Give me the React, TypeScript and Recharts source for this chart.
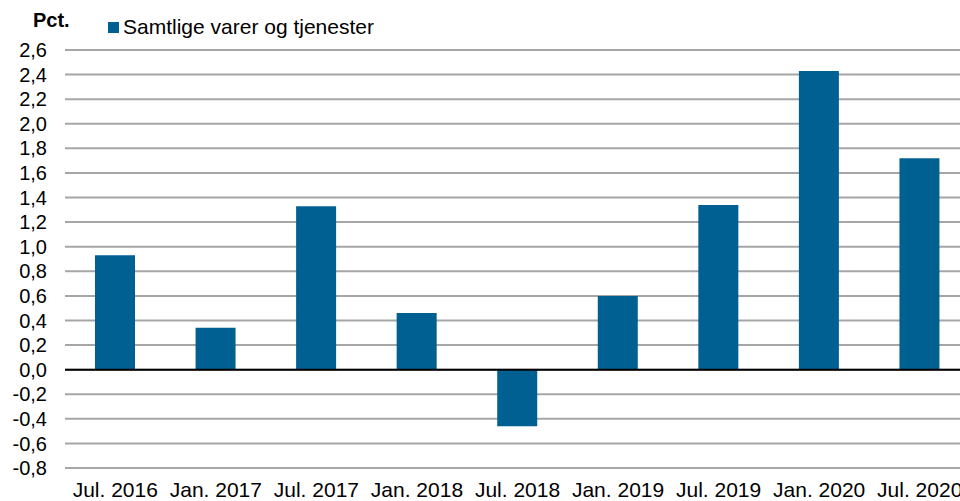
import {
  BarChart,
  Bar,
  XAxis,
  YAxis,
  CartesianGrid,
  ReferenceLine,
} from 'recharts';

const periods = [
  'Jul. 2016',
  'Jan. 2017',
  'Jul. 2017',
  'Jan. 2018',
  'Jul. 2018',
  'Jan. 2019',
  'Jul. 2019',
  'Jan. 2020',
  'Jul. 2020',
];
const samtlige = [0.93, 0.34, 1.33, 0.46, -0.46, 0.6, 1.34, 2.43, 1.72];
const yTicks = [-0.8, -0.6, -0.4, -0.2, 0, 0.2, 0.4, 0.6, 0.8, 1.0, 1.2, 1.4, 1.6, 1.8, 2.0, 2.2, 2.4, 2.6];
const seriesName = 'Samtlige varer og tjenester';

const data = periods.map((p, i) => ({ period: p, value: samtlige[i] }));

const font = '"Liberation Sans", Arial, sans-serif';
const barColor = '#006092';

const fmt = (v: number) => v.toFixed(1).replace('.', ',');

export default function App() {
  return (
    <div
      style={{
        position: 'fixed',
        left: 0,
        top: 0,
        width: 960,
        height: 501,
        overflow: 'hidden',
        background: '#fff',
      }}
    >
      <div
        style={{
          position: 'absolute',
          left: 33,
          top: 9,
          fontFamily: font,
          fontWeight: 'bold',
          fontSize: 20,
          color: '#000',
        }}
      >
        Pct.
      </div>
      {/* legend drawn as an overlay so it doesn't push the plot down */}
      <div
        style={{
          position: 'absolute',
          left: 108,
          top: 15,
          display: 'flex',
          alignItems: 'center',
          fontFamily: font,
          fontSize: 21,
          color: '#000',
          zIndex: 2,
        }}
      >
        <span style={{ width: 11, height: 11, background: barColor, display: 'inline-block', marginRight: 4 }} />
        <span>{seriesName}</span>
      </div>
      <BarChart
        width={975}
        height={520}
        data={data}
        margin={{ top: 50, right: 5, left: 0, bottom: 12 }}
      >
        <CartesianGrid vertical={false} stroke="#a6a6a6" strokeWidth={2} />
        <XAxis
          dataKey="period"
          axisLine={false}
          tickLine={false}
          tickSize={0}
          tickMargin={14}
          height={40}
          interval={0}
          tick={{ fill: '#000', fontSize: 21, fontFamily: font }}
        />
        <YAxis
          type="number"
          domain={[-0.8, 2.6]}
          ticks={yTicks}
          tickFormatter={fmt}
          axisLine={false}
          tickLine={false}
          tickSize={0}
          tickMargin={18}
          width={65}
          interval={0}
          tick={{ fill: '#000', fontSize: 20, fontFamily: font }}
        />
        <ReferenceLine y={0} stroke="#000" strokeWidth={2} />
        <Bar dataKey="value" name={seriesName} fill={barColor} barSize={40} isAnimationActive={false} />
      </BarChart>
    </div>
  );
}
